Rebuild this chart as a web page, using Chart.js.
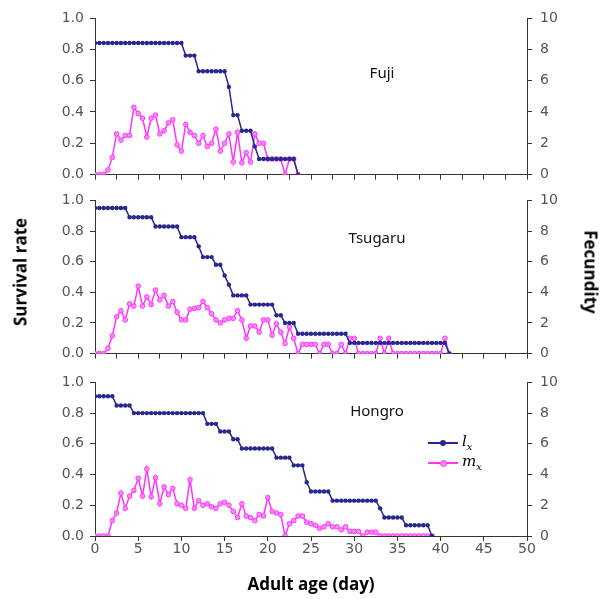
<!DOCTYPE html>
<html>
<head>
<meta charset="utf-8">
<script src="https://cdn.jsdelivr.net/npm/chart.js@4.4.1/dist/chart.umd.min.js"></script>
<style>
  html, body { margin: 0; padding: 0; background: #fff; }
  #wrap { position: relative; width: 606px; height: 599px; overflow: hidden; }
  .panel { position: absolute; left: 0; width: 606px; }
  .name { position: absolute; font: 15px 'Noto Sans', sans-serif; color: #111; transform: translate(-50%, -50%); white-space: nowrap; }
  .vtitle { position: absolute; font: bold 17px 'Open Sans', sans-serif; color: #000; white-space: nowrap; transform: translate(-50%, -50%); }
  .leg { position: absolute; left: 428px; height: 16px; width: 70px; }
  .leg .ln { position: absolute; left: 0; top: 7px; width: 30px; height: 2px; }
  .leg .dot { position: absolute; left: 12px; top: 5px; width: 6px; height: 6px; border-radius: 50%; }
  .leg .tx { position: absolute; left: 34px; top: -3px; font: italic 15px 'DejaVu Serif', serif; color: #000; }
  .leg sub { font-size: 10px; }
</style>
</head>
<body>
<div id="wrap">
  <div class="panel" style="top:0px;height:191px"><canvas id="c1" width="606" height="191"></canvas></div>
  <div class="panel" style="top:184px;height:186px"><canvas id="c2" width="606" height="186"></canvas></div>
  <div class="panel" style="top:366px;height:233px"><canvas id="c3" width="606" height="233"></canvas></div>

  <div class="name" style="left:382px;top:72px">Fuji</div>
  <div class="name" style="left:377px;top:237px">Tsugaru</div>
  <div class="name" style="left:377px;top:410px">Hongro</div>

  <div class="vtitle" style="left:20px;top:272px;transform:translate(-50%,-50%) rotate(-90deg)">Survival rate</div>
  <div class="vtitle" style="left:591px;top:272px;transform:translate(-50%,-50%) rotate(90deg)">Fecundity</div>

  <div class="leg" style="top:435px">
    <div class="ln" style="background:#27278f"></div>
    <div class="dot" style="background:#27278f"></div>
    <div class="tx">l<sub>x</sub></div>
  </div>
  <div class="leg" style="top:455px">
    <div class="ln" style="background:#ff33ff"></div>
    <div class="dot" style="background:#ff88ff;border:1px solid #ff33ff;width:5px;height:5px"></div>
    <div class="tx">m<sub>x</sub></div>
  </div>
</div>

<script>
// adult age (day), sampled every half day
const ages = [0, 0.5, 1, 1.5, 2, 2.5, 3, 3.5, 4, 4.5, 5, 5.5, 6, 6.5, 7, 7.5, 8, 8.5, 9, 9.5,
    10, 10.5, 11, 11.5, 12, 12.5, 13, 13.5, 14, 14.5, 15, 15.5, 16, 16.5, 17, 17.5, 18, 18.5, 19, 19.5,
    20, 20.5, 21, 21.5, 22, 22.5, 23, 23.5, 24, 24.5, 25, 25.5, 26, 26.5, 27, 27.5, 28, 28.5, 29, 29.5,
    30, 30.5, 31, 31.5, 32, 32.5, 33, 33.5, 34, 34.5, 35, 35.5, 36, 36.5, 37, 37.5, 38, 38.5, 39, 39.5,
    40, 40.5, 41];

const xTicks = [0, 5, 10, 15, 20, 25, 30, 35, 40, 45, 50];
const survivalTicks = [0, 0.2, 0.4, 0.6, 0.8, 1.0];
const fecundityTicks = [0, 2, 4, 6, 8, 10];

// Fuji
const fujiLx = [0.84, 0.84, 0.84, 0.84, 0.84, 0.84, 0.84, 0.84, 0.84, 0.84,
    0.84, 0.84, 0.84, 0.84, 0.84, 0.84, 0.84, 0.84, 0.84, 0.84,
    0.84, 0.76, 0.76, 0.76, 0.66, 0.66, 0.66, 0.66, 0.66, 0.66,
    0.66, 0.56, 0.38, 0.38, 0.28, 0.28, 0.28, 0.18, 0.10, 0.10,
    0.10, 0.10, 0.10, 0.10, 0.10, 0.10, 0.10, 0];
const fujiMx = [0, 0, 0, 0.3, 1.1, 2.6, 2.2, 2.5, 2.5, 4.3,
    3.9, 3.6, 2.4, 3.6, 3.8, 2.6, 2.8, 3.3, 3.5, 1.9,
    1.5, 3.2, 2.7, 2.5, 2.0, 2.5, 1.8, 2.0, 2.9, 1.5,
    2.0, 2.6, 0.8, 2.7, 0.75, 1.4, 0.8, 2.6, 2.0, 2.0,
    1.0, 1.0, 1.0, 1.0, 0, 1.0, 1.0, 0];

// Tsugaru
const tsugaruLx = [0.95, 0.95, 0.95, 0.95, 0.95, 0.95, 0.95, 0.95, 0.89, 0.89,
    0.89, 0.89, 0.89, 0.89, 0.83, 0.83, 0.83, 0.83, 0.83, 0.83,
    0.76, 0.76, 0.76, 0.76, 0.70, 0.63, 0.63, 0.63, 0.58, 0.58,
    0.51, 0.45, 0.38, 0.38, 0.38, 0.38, 0.32, 0.32, 0.32, 0.32,
    0.32, 0.32, 0.25, 0.25, 0.20, 0.20, 0.20, 0.13, 0.13, 0.13,
    0.13, 0.13, 0.13, 0.13, 0.13, 0.13, 0.13, 0.13, 0.13, 0.07,
    0.07, 0.07, 0.07, 0.07, 0.07, 0.07, 0.07, 0.07, 0.07, 0.07,
    0.07, 0.07, 0.07, 0.07, 0.07, 0.07, 0.07, 0.07, 0.07, 0.07,
    0.07, 0.07, 0];
const tsugaruMx = [0, 0, 0, 0.35, 1.16, 2.4, 2.8, 2.2, 3.25, 3.1,
    4.4, 3.1, 3.7, 3.2, 4.15, 3.5, 3.8, 3.1, 3.4, 2.7,
    2.2, 2.2, 2.9, 2.95, 3.0, 3.4, 3.0, 2.6, 2.2, 2.0,
    2.2, 2.3, 2.3, 2.8, 2.2, 1.0, 1.8, 1.8, 1.4, 2.2,
    2.2, 1.2, 1.95, 1.4, 0.66, 1.74, 1.0, 0, 0.6, 0.6,
    0.6, 0.6, 0, 0.6, 0.6, 0, 0, 0.6, 0, 1.0,
    1.0, 0, 0, 0, 0, 0, 1.0, 0, 1.0, 0,
    0, 0, 0, 0, 0, 0, 0, 0, 0, 0,
    0, 1.0, 0];

// Hongro
const hongroLx = [0.91, 0.91, 0.91, 0.91, 0.91, 0.85, 0.85, 0.85, 0.85, 0.80,
    0.80, 0.80, 0.80, 0.80, 0.80, 0.80, 0.80, 0.80, 0.80, 0.80,
    0.80, 0.80, 0.80, 0.80, 0.80, 0.80, 0.73, 0.73, 0.73, 0.68,
    0.68, 0.68, 0.63, 0.63, 0.57, 0.57, 0.57, 0.57, 0.57, 0.57,
    0.57, 0.57, 0.51, 0.51, 0.51, 0.51, 0.46, 0.46, 0.46, 0.35,
    0.29, 0.29, 0.29, 0.29, 0.29, 0.23, 0.23, 0.23, 0.23, 0.23,
    0.23, 0.23, 0.23, 0.23, 0.23, 0.23, 0.18, 0.12, 0.12, 0.12,
    0.12, 0.12, 0.07, 0.07, 0.07, 0.07, 0.07, 0.07, 0];
const hongroMx = [0, 0, 0, 0, 1.0, 1.5, 2.8, 1.8, 2.6, 2.97,
    3.76, 2.6, 4.37, 2.55, 3.8, 2.1, 3.2, 2.7, 3.1, 2.1,
    2.0, 1.8, 3.66, 1.8, 2.3, 2.0, 2.1, 1.9, 1.8, 2.1,
    2.2, 2.0, 1.6, 1.2, 2.1, 1.3, 1.2, 1.0, 1.4, 1.3,
    2.5, 1.6, 1.5, 1.4, 0, 0.8, 1.0, 1.3, 1.3, 0.9,
    0.8, 0.7, 0.5, 0.6, 0.8, 0.6, 0.6, 0.4, 0.6, 0.3,
    0.3, 0.3, 0, 0.25, 0.25, 0.25, 0, 0, 0, 0,
    0, 0, 0, 0, 0, 0, 0, 0, 0];

const BLUE = '#27278f';
const PINK = '#ff33ff';
const TICK_FONT = {family: "'DejaVu Sans', sans-serif", size: 14};
const TICK_COLOR = '#555';
const AXIS_COLOR = '#333';

function toPoints(values) {
    return values.map((v, i) => ({x: ages[i], y: v}));
}

function makePanel(canvasId, lx, mx, {showX, padTop, padBottom}) {
    const xScale = {
        type: 'linear',
        min: 0,
        max: 50,
        afterBuildTicks: (scale) => {
            if (showX) {
                scale.ticks = xTicks.map(v => ({value: v}));
            } else {
                // unlabelled tick marks every 2.5 days on the upper panels
                const t = [];
                xTicks.forEach((v, i) => {
                    t.push({value: v});
                    if (i < xTicks.length - 1) t.push({value: v + 2.5});
                });
                scale.ticks = t;
            }
        },
        grid: {drawOnChartArea: false, drawTicks: true, tickLength: 5, color: AXIS_COLOR},
        border: {display: true, color: AXIS_COLOR, width: 1},
        ticks: {display: showX, font: TICK_FONT, color: TICK_COLOR, padding: 0, maxRotation: 0},
        title: showX ? {
            display: true,
            text: 'Adult age (day)',
            font: {family: "'Open Sans', sans-serif", size: 17, weight: 'bold'},
            color: '#000',
            padding: {top: 4, bottom: 4}
        } : {display: false},
        afterFit: (scale) => { scale.height = showX ? 63 : 6; }
    };

    const data = {
        datasets: [{
            label: 'lx',
            data: toPoints(lx),
            yAxisID: 'y',
            borderColor: BLUE,
            backgroundColor: BLUE,
            borderWidth: 1.5,
            pointRadius: 2.2,
            pointBorderWidth: 0,
            tension: 0
        }, {
            label: 'mx',
            data: toPoints(mx),
            yAxisID: 'y1',
            borderColor: PINK,
            backgroundColor: '#ff8cff',
            borderWidth: 1.5,
            pointRadius: 2.3,
            pointBorderWidth: 1,
            tension: 0
        }]
    };

    const options = {
        responsive: false,
        animation: false,
        layout: {padding: {top: padTop, bottom: padBottom, left: 0, right: 0}},
        plugins: {legend: {display: false}, tooltip: {enabled: false}},
        scales: {
            x: xScale,
            y: {
                position: 'left',
                min: 0,
                max: 1,
                afterBuildTicks: (scale) => { scale.ticks = survivalTicks.map(v => ({value: v})); },
                grid: {drawOnChartArea: false, tickLength: 5, color: AXIS_COLOR},
                border: {display: true, color: AXIS_COLOR, width: 1},
                ticks: {font: TICK_FONT, color: TICK_COLOR, padding: 6, callback: (v) => v.toFixed(1)},
                afterFit: (scale) => { scale.width = 95; }
            },
            y1: {
                position: 'right',
                min: 0,
                max: 10,
                afterBuildTicks: (scale) => { scale.ticks = fecundityTicks.map(v => ({value: v})); },
                grid: {drawOnChartArea: false, tickLength: 5, color: AXIS_COLOR},
                border: {display: true, color: AXIS_COLOR, width: 1},
                ticks: {font: TICK_FONT, color: TICK_COLOR, padding: 8},
                afterFit: (scale) => { scale.width = 79; }
            }
        }
    };

    return new Chart(document.getElementById(canvasId).getContext('2d'), {
        type: 'line',
        data: data,
        options: options
    });
}

makePanel('c1', fujiLx, fujiMx, {showX: false, padTop: 18, padBottom: 3});
makePanel('c2', tsugaruLx, tsugaruMx, {showX: false, padTop: 13, padBottom: 3});
makePanel('c3', hongroLx, hongroMx, {showX: true, padTop: 15, padBottom: 0});
</script>
</body>
</html>
